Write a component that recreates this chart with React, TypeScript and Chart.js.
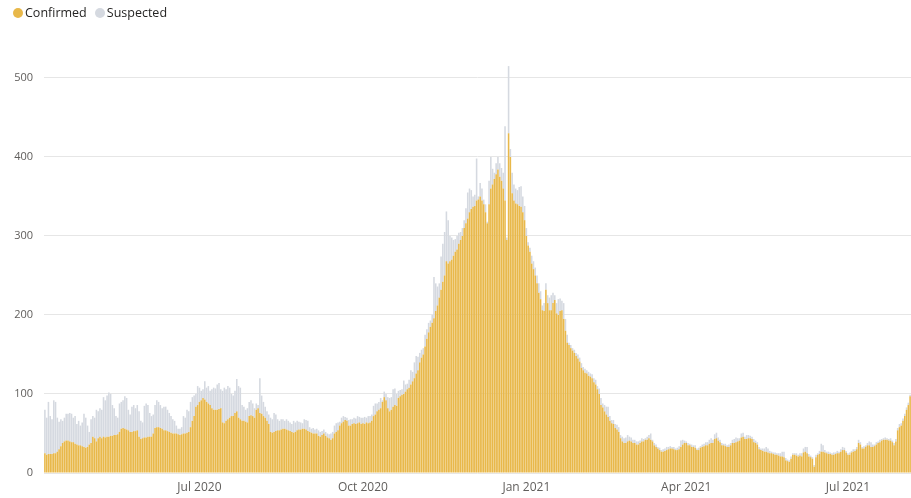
import { useEffect, useRef } from "react";
import { Chart, registerables } from "chart.js";

Chart.register(...registerables);

// first day of the series: 5 Apr 2020 (one bar per day)
const startYear = 2020;
const startMonth = 3; // April (0-based)
const startDay = 5;

const monthNames = ["Jan", "Feb", "Mar", "Apr", "May", "Jun", "Jul", "Aug", "Sep", "Oct", "Nov", "Dec"];
const tickMonths = [0, 3, 6, 9];
const yTicks = [0, 100, 200, 300, 400, 500];

const confirmed = [
  25, 23, 24, 24, 24, 25, 25, 27, 30, 34,
  38, 40, 41, 41, 40, 39, 39, 37, 36, 35,
  35, 34, 33, 32, 33, 36, 38, 46, 44, 40,
  44, 46, 44, 46, 45, 46, 46, 47, 47, 48,
  48, 49, 52, 56, 57, 56, 55, 54, 52, 52,
  53, 53, 54, 46, 43, 44, 45, 45, 46, 46,
  46, 50, 57, 58, 58, 57, 56, 54, 54, 53,
  52, 51, 50, 50, 50, 49, 48, 49, 50, 50,
  51, 52, 58, 66, 72, 84, 86, 90, 92, 95,
  93, 90, 88, 86, 82, 80, 80, 80, 81, 82,
  64, 63, 66, 68, 70, 72, 72, 76, 78, 70,
  68, 66, 66, 65, 64, 72, 73, 72, 70, 80,
  82, 76, 75, 72, 70, 66, 62, 52, 51, 52,
  53, 54, 54, 55, 56, 56, 55, 54, 53, 52,
  51, 52, 54, 55, 55, 56, 56, 55, 53, 52,
  51, 50, 50, 50, 47, 46, 48, 50, 47, 45,
  44, 42, 44, 50, 52, 54, 60, 63, 65, 67,
  66, 60, 60, 62, 63, 62, 63, 64, 62, 63,
  62, 64, 63, 64, 66, 72, 74, 78, 80, 82,
  90, 96, 92, 82, 78, 80, 84, 86, 85, 95,
  97, 99, 100, 103, 106, 108, 112, 116, 120, 126,
  130, 140, 146, 150, 160, 170, 178, 185, 190, 196,
  205, 212, 222, 232, 242, 250, 268, 265, 268, 270,
  275, 280, 283, 290, 295, 300, 310, 316, 322, 330,
  334, 337, 338, 345, 346, 350, 345, 340, 330, 316,
  340, 360, 365, 372, 378, 384, 375, 370, 360, 345,
  295, 430, 400, 354, 345, 341, 340, 338, 337, 330,
  320, 300, 288, 280, 265, 258, 250, 240, 228, 220,
  206, 205, 232, 215, 206, 206, 215, 219, 202, 200,
  205, 206, 195, 180, 165, 162, 158, 155, 152, 148,
  145, 141, 133, 130, 127, 126, 123, 122, 120, 115,
  112, 106, 100, 86, 83, 78, 74, 71, 66, 63,
  62, 57, 55, 52, 44, 40, 38, 38, 40, 41,
  40, 38, 38, 36, 36, 38, 40, 40, 42, 42,
  44, 42, 40, 35, 33, 31, 29, 27, 27, 28,
  29, 30, 31, 31, 30, 29, 29, 30, 33, 36,
  38, 38, 35, 35, 33, 33, 32, 29, 29, 32,
  33, 34, 35, 35, 37, 38, 38, 43, 44, 41,
  39, 35, 35, 34, 33, 33, 35, 38, 38, 39,
  40, 41, 45, 46, 43, 43, 44, 44, 43, 39,
  38, 36, 30, 29, 28, 27, 27, 26, 25, 25,
  24, 23, 23, 22, 21, 21, 20, 16, 15, 14,
  18, 23, 23, 22, 21, 22, 21, 26, 27, 25,
  21, 20, 18, 8, 20, 23, 24, 27, 27, 26,
  25, 24, 24, 23, 23, 24, 25, 25, 27, 29,
  29, 26, 23, 23, 26, 27, 28, 30, 38, 36,
  31, 31, 33, 35, 35, 33, 33, 34, 36, 38,
  39, 41, 42, 42, 42, 41, 41, 39, 35, 40,
  54, 58, 60, 66, 72, 80, 86, 97,
];

const suspected = [
  55, 47, 66, 48, 44, 67, 65, 43, 35, 34,
  28, 30, 34, 34, 36, 36, 31, 35, 26, 31,
  25, 30, 42, 38, 27, 16, 30, 26, 26, 40,
  34, 36, 36, 50, 47, 52, 56, 53, 39, 34,
  24, 21, 36, 34, 35, 41, 40, 26, 22, 32,
  33, 29, 32, 32, 23, 20, 40, 43, 40, 30,
  26, 24, 29, 34, 32, 29, 26, 30, 30, 27,
  24, 21, 18, 16, 10, 7, 8, 9, 22, 20,
  29, 26, 32, 30, 26, 16, 24, 18, 12, 11,
  23, 18, 22, 18, 24, 28, 27, 32, 33, 24,
  40, 45, 40, 42, 38, 28, 26, 28, 41, 40,
  40, 20, 18, 15, 18, 18, 19, 16, 12, 8,
  4, 44, 23, 18, 14, 12, 12, 18, 17, 24,
  21, 14, 12, 13, 12, 10, 13, 12, 11, 10,
  15, 12, 12, 10, 9, 7, 12, 12, 13, 6,
  5, 7, 5, 6, 7, 6, 5, 5, 5, 5,
  5, 8, 8, 10, 11, 10, 5, 7, 7, 4,
  4, 7, 8, 6, 7, 7, 9, 7, 8, 7,
  9, 6, 9, 8, 8, 13, 14, 10, 10, 13,
  2, 7, 8, 14, 17, 16, 22, 21, 15, 9,
  8, 7, 17, 9, 7, 10, 18, 12, 20, 22,
  17, 12, 10, 8, 15, 12, 12, 8, 10, 52,
  35, 24, 18, 42, 48, 55, 63, 55, 32, 28,
  20, 16, 17, 14, 10, 10, 10, 19, 33, 30,
  24, 13, 14, 53, 4, 17, 15, 6, 10, 2,
  30, 40, 20, 8, 14, 16, 17, 16, 20, 94,
  3, 85, 10, 26, 20, 19, 18, 24, 26, 20,
  18, 10, 4, 5, 10, 10, 10, 10, 12, 10,
  6, 10, 8, 10, 16, 19, 13, 6, 13, 20,
  16, 12, 20, 15, 10, 3, 4, 3, 4, 4,
  5, 5, 6, 4, 5, 4, 5, 4, 5, 5,
  6, 4, 7, 9, 5, 8, 10, 13, 6, 4,
  5, 5, 6, 6, 4, 6, 6, 7, 8, 5,
  5, 4, 4, 4, 4, 3, 4, 3, 2, 4,
  4, 8, 2, 3, 3, 2, 3, 2, 3, 3,
  4, 3, 3, 2, 3, 2, 3, 4, 8, 6,
  3, 2, 3, 2, 3, 2, 3, 2, 3, 2,
  3, 3, 4, 4, 5, 6, 4, 6, 7, 4,
  3, 3, 2, 3, 2, 3, 3, 4, 5, 6,
  4, 3, 5, 5, 3, 5, 4, 3, 3, 4,
  3, 3, 3, 2, 3, 4, 6, 5, 3, 2,
  2, 3, 2, 3, 4, 6, 7, 3, 2, 2,
  3, 2, 2, 3, 2, 3, 4, 5, 6, 8,
  3, 2, 2, 2, 3, 2, 4, 10, 8, 3,
  2, 3, 2, 2, 3, 2, 3, 2, 3, 4,
  3, 2, 2, 3, 2, 3, 2, 3, 4, 3,
  2, 3, 2, 3, 5, 6, 3, 2, 3, 2,
  3, 2, 2, 3, 2, 2, 3, 2, 3, 3,
  3, 4, 3, 3, 3, 3, 3, 2,
];

const CONFIRMED_COLOR = "#E8B84A";
const SUSPECTED_COLOR = "#D5D9E0";
const FONT = '"Open Sans", "Noto Sans", sans-serif';

function buildDays(n: number) {
  const labels: string[] = [];
  const tickText: string[] = [];
  for (let i = 0; i < n; i++) {
    const d = new Date(Date.UTC(startYear, startMonth, startDay + i));
    const m = d.getUTCMonth();
    const y = d.getUTCFullYear();
    labels.push(`${y}-${m + 1}-${d.getUTCDate()}`);
    tickText.push(d.getUTCDate() === 1 && tickMonths.includes(m) ? `${monthNames[m]} ${y}` : "");
  }
  return { labels, tickText };
}

export default function App() {
  const ref = useRef<HTMLCanvasElement>(null);

  useEffect(() => {
    if (!ref.current) return;
    const { labels, tickText } = buildDays(confirmed.length);
    const chart = new Chart(ref.current, {
      type: "bar",
      data: {
        labels,
        datasets: [
          {
            label: "Confirmed",
            data: confirmed,
            backgroundColor: CONFIRMED_COLOR,
            borderWidth: 0,
            categoryPercentage: 1,
            barPercentage: 0.88,
          },
          {
            label: "Suspected",
            data: suspected,
            backgroundColor: SUSPECTED_COLOR,
            borderWidth: 0,
            categoryPercentage: 1,
            barPercentage: 0.88,
          },
        ],
      },
      options: {
        responsive: false,
        animation: false,
        events: [],
        layout: { padding: { top: 40, left: 0, right: 0, bottom: 0 } },
        plugins: { legend: { display: false }, tooltip: { enabled: false } },
        scales: {
          x: {
            stacked: true,
            grid: { display: false, drawTicks: false },
            border: { display: false },
            afterFit: (scale: any) => {
              scale.height = 25;
              scale.paddingLeft = 0;
              scale.paddingRight = 0;
            },
            ticks: {
              autoSkip: false,
              maxRotation: 0,
              minRotation: 0,
              padding: 7,
              color: "#605E5C",
              font: { family: FONT, size: 12 },
              callback: (_v: any, index: number) => tickText[index],
            },
          },
          y: {
            stacked: true,
            min: 0,
            max: 548,
            afterBuildTicks: (scale: any) => {
              scale.ticks = yTicks.map((v) => ({ value: v }));
            },
            afterFit: (scale: any) => {
              scale.width = 44;
            },
            grid: { color: "#E6E6E6", lineWidth: 1, drawTicks: false },
            border: { display: false },
            ticks: {
              padding: 11,
              color: "#605E5C",
              font: { family: FONT, size: 11 },
            },
          },
        },
      },
    });
    return () => chart.destroy();
  }, []);

  const dot = (color: string) => ({
    display: "inline-block",
    width: 10,
    height: 10,
    borderRadius: "50%",
    background: color,
  });

  return (
    <div
      style={{
        position: "fixed",
        left: 0,
        top: 0,
        width: 911,
        height: 498,
        background: "#fff",
        overflow: "hidden",
        fontFamily: FONT,
      }}
    >
      <canvas ref={ref} width={911} height={498} style={{ position: "absolute", left: 0, top: 0, width: 911, height: 498 }} />
      <div
        style={{
          position: "absolute",
          left: 13,
          top: 4,
          height: 18,
          display: "flex",
          alignItems: "center",
          fontSize: 12.5,
          color: "#252423",
          lineHeight: "18px",
          whiteSpace: "nowrap",
        }}
      >
        <span style={dot(CONFIRMED_COLOR)} />
        <span style={{ marginLeft: 2 }}>Confirmed</span>
        <span style={{ ...dot(SUSPECTED_COLOR), marginLeft: 8 }} />
        <span style={{ marginLeft: 2 }}>Suspected</span>
      </div>
    </div>
  );
}
